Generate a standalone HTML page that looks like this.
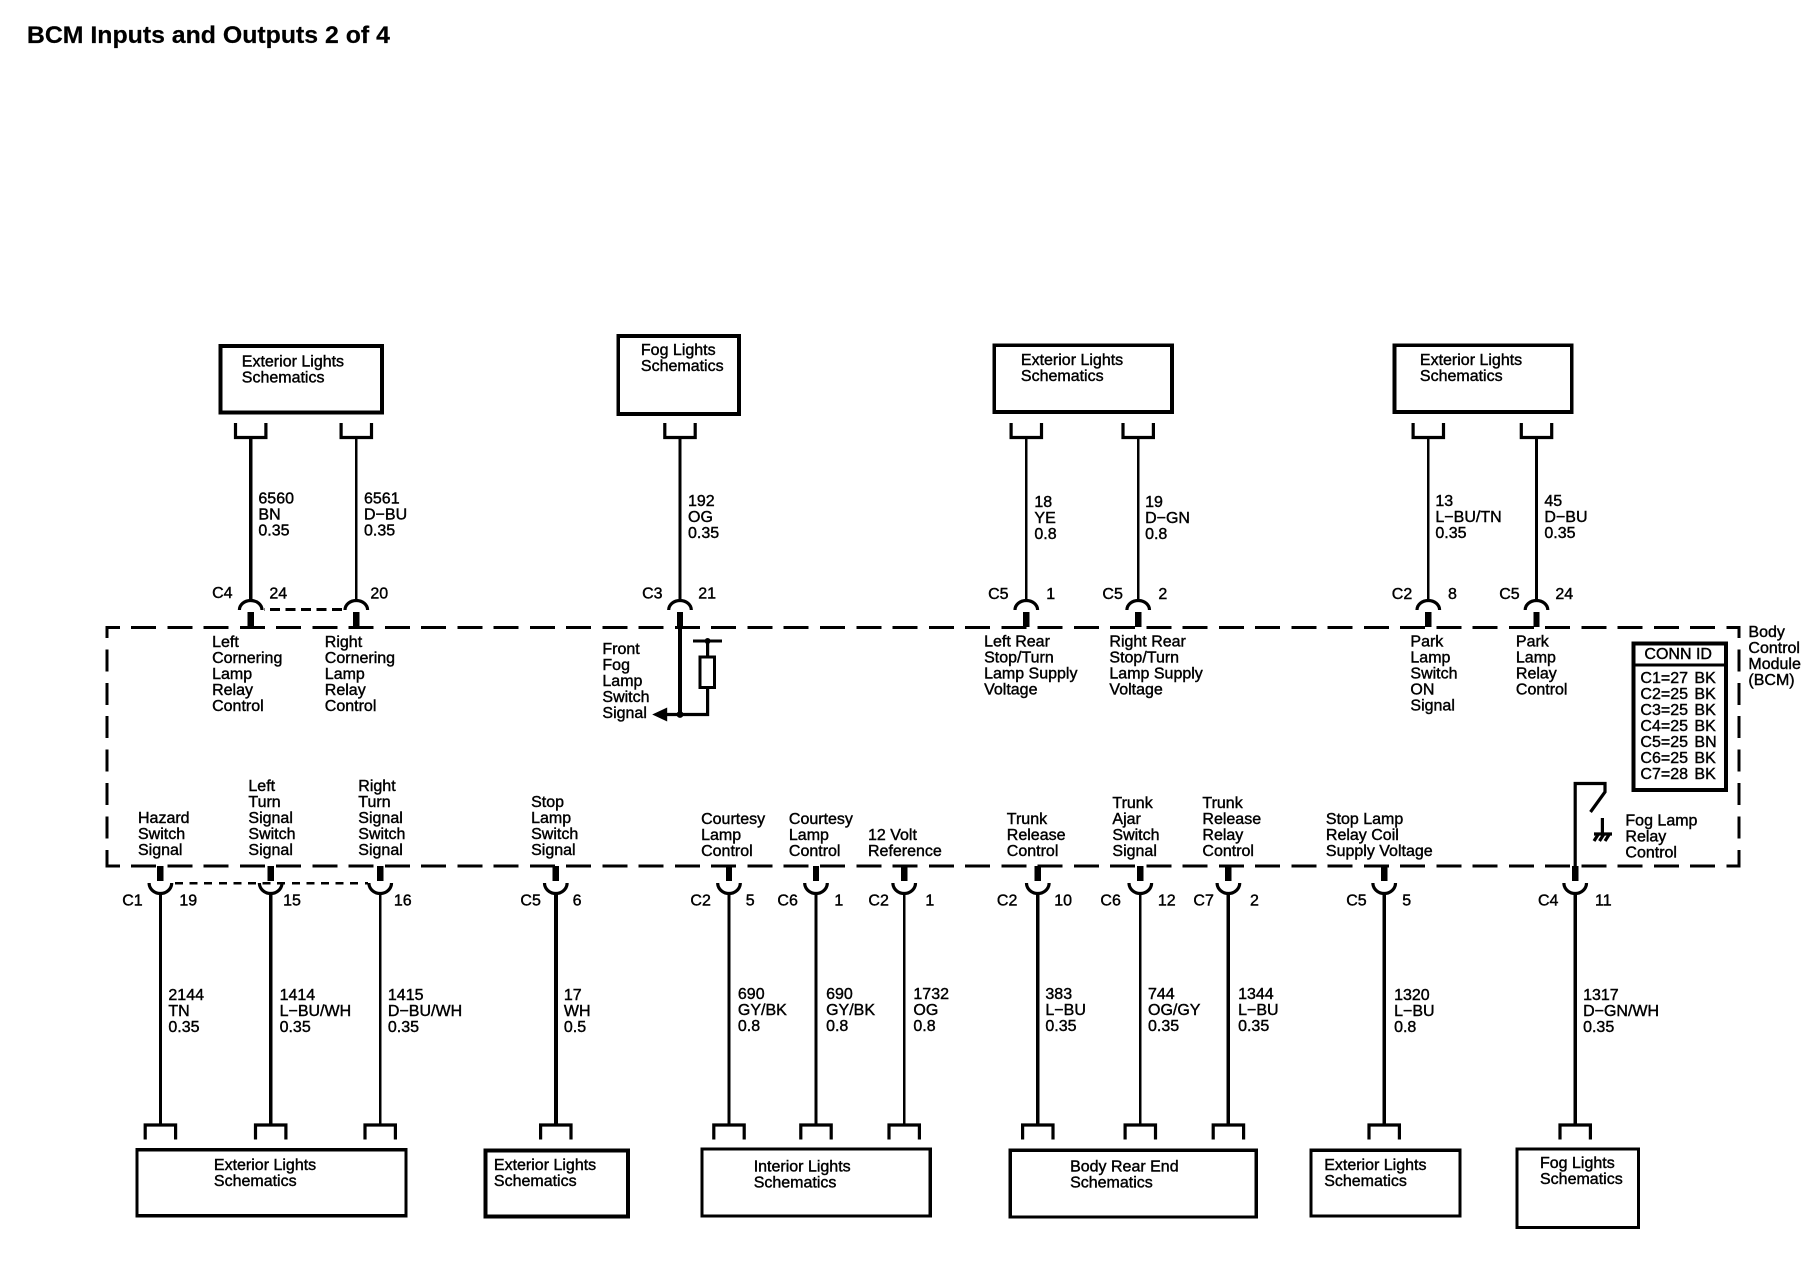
<!DOCTYPE html>
<html><head><meta charset="utf-8"><title>BCM Inputs and Outputs 2 of 4</title>
<style>
html,body{margin:0;padding:0;background:#fff;width:1812px;height:1264px;overflow:hidden}
svg{display:block}
text{font-family:"Liberation Sans",sans-serif;font-size:16px;fill:#000;stroke:#000;stroke-width:.42;transform:translate(-.6px,-.8px)}
.t{font-weight:bold;font-size:24px;stroke-width:.2}
.l{fill:none;stroke:#000;stroke-width:3.2}
.b{fill:none;stroke:#000;stroke-width:3.8}
line,rect{shape-rendering:crispEdges}
</style></head><body>
<svg xmlns="http://www.w3.org/2000/svg" width="1812" height="1264" viewBox="0 0 1812 1264">
<defs>
<g id="tc"><path class="l" d="M-15.2 423V437.5H15.2V423"/><path class="l" d="M-11.3 610A11.3 9.5 0 0 1 11.3 610"/><rect x="-3.2" y="612" width="6.4" height="15" fill="#000"/></g>
<g id="bc"><path class="l" d="M-15.2 1139.5V1125H15.2V1139.5"/><path class="l" d="M-11.3 883A11.3 10.5 0 0 0 11.3 883"/><rect x="-3.2" y="866" width="6.4" height="15" fill="#000"/></g>
</defs>
<text class="t" x="27.5" y="44" textLength="363" lengthAdjust="spacingAndGlyphs">BCM Inputs and Outputs 2 of 4</text>

<!-- module border -->
<line x1="106.8" y1="627.5" x2="1740" y2="627.5" stroke="#000" stroke-width="3.2" stroke-dasharray="25 11.26" stroke-dashoffset="12"/>
<line x1="106.8" y1="866" x2="1740" y2="866" stroke="#000" stroke-width="3.2" stroke-dasharray="25 11.26" stroke-dashoffset="12"/>
<line x1="106.8" y1="626" x2="106.8" y2="867.5" stroke="#000" stroke-width="3" stroke-dasharray="22 11.4" stroke-dashoffset="10"/>
<line x1="1739" y1="626" x2="1739" y2="867.5" stroke="#000" stroke-width="3" stroke-dasharray="22 11.4" stroke-dashoffset="10"/>

<!-- top boxes -->
<rect class="b" x="220.4" y="346" width="161.5" height="66.6"/>
<rect class="b" x="618.3" y="336" width="120.8" height="78"/>
<rect class="b" x="994.3" y="345.3" width="177.7" height="66.6"/>
<rect class="b" x="1394.5" y="345.3" width="177.3" height="66.6"/>

<!-- top wires -->
<use href="#tc" x="250.7"/><line x1="250.7" y1="437" x2="250.7" y2="602" stroke="#000" stroke-width="3.6"/>
<use href="#tc" x="356.3"/><line x1="356.3" y1="437" x2="356.3" y2="602" stroke="#000" stroke-width="2.8"/>
<use href="#tc" x="680"/><line x1="680" y1="437" x2="680" y2="602" stroke="#000" stroke-width="3"/>
<use href="#tc" x="1026.3"/><line x1="1026.3" y1="437" x2="1026.3" y2="602" stroke="#000" stroke-width="2.6"/>
<use href="#tc" x="1138.2"/><line x1="1138.2" y1="437" x2="1138.2" y2="602" stroke="#000" stroke-width="2.6"/>
<use href="#tc" x="1428.3"/><line x1="1428.3" y1="437" x2="1428.3" y2="602" stroke="#000" stroke-width="2.6"/>
<use href="#tc" x="1536.5"/><line x1="1536.5" y1="437" x2="1536.5" y2="602" stroke="#000" stroke-width="2.6"/>
<line x1="264" y1="609.5" x2="345" y2="609.5" stroke="#000" stroke-width="2.8" stroke-dasharray="10 5.5" stroke-dashoffset="-6"/>

<!-- fog switch internal -->
<line x1="680" y1="627" x2="680" y2="714.5" stroke="#000" stroke-width="3.6"/>
<circle cx="680" cy="714.5" r="3.4" fill="#000"/>
<path d="M652.2 714.5L667.2 707.5V721.5Z" fill="#000"/>
<path class="l" d="M667 714.5H707.6V641"/>
<line x1="693" y1="641" x2="721.8" y2="641" stroke="#000" stroke-width="2.6"/>
<circle cx="707.6" cy="641" r="3" fill="#000"/>
<rect x="700" y="657" width="14.5" height="30.5" fill="#fff" stroke="#000" stroke-width="3"/>

<!-- bottom wires -->
<use href="#bc" x="160.4"/><line x1="160.4" y1="893" x2="160.4" y2="1125" stroke="#000" stroke-width="2.8"/>
<use href="#bc" x="270.7"/><line x1="270.7" y1="893" x2="270.7" y2="1125" stroke="#000" stroke-width="3.5"/>
<use href="#bc" x="380.2"/><line x1="380.2" y1="893" x2="380.2" y2="1125" stroke="#000" stroke-width="2.6"/>
<use href="#bc" x="555.8"/><line x1="555.8" y1="893" x2="555.8" y2="1125" stroke="#000" stroke-width="4"/>
<use href="#bc" x="729"/><line x1="729" y1="893" x2="729" y2="1125" stroke="#000" stroke-width="3.2"/>
<use href="#bc" x="816"/><line x1="816" y1="893" x2="816" y2="1125" stroke="#000" stroke-width="2.6"/>
<use href="#bc" x="904.2"/><line x1="904.2" y1="893" x2="904.2" y2="1125" stroke="#000" stroke-width="2.6"/>
<use href="#bc" x="1037.8"/><line x1="1037.8" y1="893" x2="1037.8" y2="1125" stroke="#000" stroke-width="3.2"/>
<use href="#bc" x="1140.3"/><line x1="1140.3" y1="893" x2="1140.3" y2="1125" stroke="#000" stroke-width="2.6"/>
<use href="#bc" x="1228.4"/><line x1="1228.4" y1="893" x2="1228.4" y2="1125" stroke="#000" stroke-width="3.6"/>
<use href="#bc" x="1384.2"/><line x1="1384.2" y1="893" x2="1384.2" y2="1125" stroke="#000" stroke-width="3.4"/>
<use href="#bc" x="1575.2"/><line x1="1575.2" y1="893" x2="1575.2" y2="1125" stroke="#000" stroke-width="3.4"/>
<line x1="172" y1="883.3" x2="368" y2="883.3" stroke="#000" stroke-width="2.6" stroke-dasharray="8 6.6" stroke-dashoffset="-3"/>

<!-- relay -->
<path class="l" d="M1575.2 866V783.5H1605V792L1590.5 812"/>
<path class="l" d="M1602.4 818V834M1594 834H1612M1598.5 834L1594 841M1604 834L1599.5 841M1609.5 834L1605 841"/>

<!-- bottom boxes -->
<rect class="l" x="137" y="1149.8" width="269" height="66"/>
<rect class="b" x="485.5" y="1150.4" width="142.5" height="66.2"/>
<rect class="l" x="702" y="1149" width="228.2" height="67"/>
<rect class="l" x="1010.3" y="1150.3" width="246" height="66.7"/>
<rect class="l" x="1311" y="1150.2" width="149" height="65.7"/>
<rect class="l" x="1517" y="1149" width="121.5" height="78.5"/>

<!-- conn id -->
<rect x="1633.5" y="643.5" width="92.5" height="146.5" fill="none" stroke="#000" stroke-width="3.6"/>
<line x1="1632" y1="664.8" x2="1727" y2="664.8" stroke="#000" stroke-width="3"/>
<text x="1645" y="660">CONN ID</text>
<text x="1641" y="684">C1=27<tspan x="1695">BK</tspan></text>
<text x="1641" y="700">C2=25<tspan x="1695">BK</tspan></text>
<text x="1641" y="716">C3=25<tspan x="1695">BK</tspan></text>
<text x="1641" y="732">C4=25<tspan x="1695">BK</tspan></text>
<text x="1641" y="748">C5=25<tspan x="1695">BN</tspan></text>
<text x="1641" y="764">C6=25<tspan x="1695">BK</tspan></text>
<text x="1641" y="780">C7=28<tspan x="1695">BK</tspan></text>

<!-- box labels -->
<text x="242.4" y="367.3">Exterior Lights<tspan x="242.4" dy="16">Schematics</tspan></text>
<text x="641.5" y="356">Fog Lights<tspan x="641.5" dy="16">Schematics</tspan></text>
<text x="1021.5" y="366">Exterior Lights<tspan x="1021.5" dy="16">Schematics</tspan></text>
<text x="1420.5" y="366">Exterior Lights<tspan x="1420.5" dy="16">Schematics</tspan></text>
<text x="214.5" y="1171">Exterior Lights<tspan x="214.5" dy="16">Schematics</tspan></text>
<text x="494.5" y="1171">Exterior Lights<tspan x="494.5" dy="16">Schematics</tspan></text>
<text x="754.3" y="1172.3">Interior Lights<tspan x="754.3" dy="16">Schematics</tspan></text>
<text x="1070.7" y="1172.3">Body Rear End<tspan x="1070.7" dy="16">Schematics</tspan></text>
<text x="1324.8" y="1171">Exterior Lights<tspan x="1324.8" dy="16">Schematics</tspan></text>
<text x="1540.6" y="1169">Fog Lights<tspan x="1540.6" dy="16">Schematics</tspan></text>

<!-- top wire labels -->
<text x="259" y="504.5">6560<tspan x="259" dy="16">BN</tspan><tspan x="259" dy="16">0.35</tspan></text>
<text x="364.6" y="504.5">6561<tspan x="364.6" dy="16">D−BU</tspan><tspan x="364.6" dy="16">0.35</tspan></text>
<text x="688.6" y="506.7">192<tspan x="688.6" dy="16">OG</tspan><tspan x="688.6" dy="16">0.35</tspan></text>
<text x="1035" y="508">18<tspan x="1035" dy="16">YE</tspan><tspan x="1035" dy="16">0.8</tspan></text>
<text x="1145.7" y="508">19<tspan x="1145.7" dy="16">D−GN</tspan><tspan x="1145.7" dy="16">0.8</tspan></text>
<text x="1436" y="506.7">13<tspan x="1436" dy="16">L−BU/TN</tspan><tspan x="1436" dy="16">0.35</tspan></text>
<text x="1545" y="506.7">45<tspan x="1545" dy="16">D−BU</tspan><tspan x="1545" dy="16">0.35</tspan></text>

<!-- top connector labels -->
<text x="212.7" y="599">C4</text><text x="270" y="599.5">24</text><text x="371" y="599.5">20</text>
<text x="642.7" y="599.5">C3</text><text x="698.8" y="599.5">21</text>
<text x="988.7" y="600">C5</text><text x="1046.8" y="600">1</text>
<text x="1103" y="600">C5</text><text x="1159" y="600">2</text>
<text x="1392.4" y="600">C2</text><text x="1448.6" y="600">8</text>
<text x="1499.8" y="600">C5</text><text x="1556" y="600">24</text>

<!-- inside top labels -->
<text x="212.7" y="648">Left<tspan x="212.7" dy="16">Cornering</tspan><tspan x="212.7" dy="16">Lamp</tspan><tspan x="212.7" dy="16">Relay</tspan><tspan x="212.7" dy="16">Control</tspan></text>
<text x="325.4" y="648">Right<tspan x="325.4" dy="16">Cornering</tspan><tspan x="325.4" dy="16">Lamp</tspan><tspan x="325.4" dy="16">Relay</tspan><tspan x="325.4" dy="16">Control</tspan></text>
<text x="603" y="655">Front<tspan x="603" dy="16">Fog</tspan><tspan x="603" dy="16">Lamp</tspan><tspan x="603" dy="16">Switch</tspan><tspan x="603" dy="16">Signal</tspan></text>
<text x="984.7" y="647.5">Left Rear<tspan x="984.7" dy="16">Stop/Turn</tspan><tspan x="984.7" dy="16">Lamp Supply</tspan><tspan x="984.7" dy="16">Voltage</tspan></text>
<text x="1110" y="647.5">Right Rear<tspan x="1110" dy="16">Stop/Turn</tspan><tspan x="1110" dy="16">Lamp Supply</tspan><tspan x="1110" dy="16">Voltage</tspan></text>
<text x="1411" y="647.5">Park<tspan x="1411" dy="16">Lamp</tspan><tspan x="1411" dy="16">Switch</tspan><tspan x="1411" dy="16">ON</tspan><tspan x="1411" dy="16">Signal</tspan></text>
<text x="1516.5" y="647.5">Park<tspan x="1516.5" dy="16">Lamp</tspan><tspan x="1516.5" dy="16">Relay</tspan><tspan x="1516.5" dy="16">Control</tspan></text>
<text x="1749" y="638">Body<tspan x="1749" dy="16">Control</tspan><tspan x="1749" dy="16">Module</tspan><tspan x="1749" dy="16">(BCM)</tspan></text>

<!-- inside bottom labels -->
<text x="138.6" y="824">Hazard<tspan x="138.6" dy="16">Switch</tspan><tspan x="138.6" dy="16">Signal</tspan></text>
<text x="249" y="792">Left<tspan x="249" dy="16">Turn</tspan><tspan x="249" dy="16">Signal</tspan><tspan x="249" dy="16">Switch</tspan><tspan x="249" dy="16">Signal</tspan></text>
<text x="358.9" y="792">Right<tspan x="358.9" dy="16">Turn</tspan><tspan x="358.9" dy="16">Signal</tspan><tspan x="358.9" dy="16">Switch</tspan><tspan x="358.9" dy="16">Signal</tspan></text>
<text x="531.7" y="808">Stop<tspan x="531.7" dy="16">Lamp</tspan><tspan x="531.7" dy="16">Switch</tspan><tspan x="531.7" dy="16">Signal</tspan></text>
<text x="701.7" y="825">Courtesy<tspan x="701.7" dy="16">Lamp</tspan><tspan x="701.7" dy="16">Control</tspan></text>
<text x="789.5" y="825">Courtesy<tspan x="789.5" dy="16">Lamp</tspan><tspan x="789.5" dy="16">Control</tspan></text>
<text x="868.6" y="841">12 Volt<tspan x="868.6" dy="16">Reference</tspan></text>
<text x="1007.4" y="825">Trunk<tspan x="1007.4" dy="16">Release</tspan><tspan x="1007.4" dy="16">Control</tspan></text>
<text x="1113" y="809">Trunk<tspan x="1113" dy="16">Ajar</tspan><tspan x="1113" dy="16">Switch</tspan><tspan x="1113" dy="16">Signal</tspan></text>
<text x="1203" y="809">Trunk<tspan x="1203" dy="16">Release</tspan><tspan x="1203" dy="16">Relay</tspan><tspan x="1203" dy="16">Control</tspan></text>
<text x="1326.5" y="825">Stop Lamp<tspan x="1326.5" dy="16">Relay Coil</tspan><tspan x="1326.5" dy="16">Supply Voltage</tspan></text>
<text x="1626" y="826.5">Fog Lamp<tspan x="1626" dy="16">Relay</tspan><tspan x="1626" dy="16">Control</tspan></text>

<!-- bottom connector labels -->
<text x="122.8" y="906.5">C1</text><text x="180" y="906.5">19</text><text x="283.7" y="906.5">15</text><text x="394.5" y="906.5">16</text>
<text x="521" y="906.5">C5</text><text x="573.2" y="906.5">6</text>
<text x="691" y="906.5">C2</text><text x="746.4" y="906.5">5</text>
<text x="778" y="906.5">C6</text><text x="835" y="906.5">1</text>
<text x="869" y="906.5">C2</text><text x="926" y="906.5">1</text>
<text x="997.5" y="906.5">C2</text><text x="1054.8" y="906.5">10</text>
<text x="1101" y="906.5">C6</text><text x="1158.5" y="906.5">12</text>
<text x="1194" y="906.5">C7</text><text x="1250.6" y="906.5">2</text>
<text x="1346.8" y="906.5">C5</text><text x="1402.8" y="906.5">5</text>
<text x="1538.6" y="906.5">C4</text><text x="1595.6" y="906.5">11</text>

<!-- bottom wire labels -->
<text x="169" y="1001">2144<tspan x="169" dy="16">TN</tspan><tspan x="169" dy="16">0.35</tspan></text>
<text x="280.2" y="1001">1414<tspan x="280.2" dy="16">L−BU/WH</tspan><tspan x="280.2" dy="16">0.35</tspan></text>
<text x="388.5" y="1001">1415<tspan x="388.5" dy="16">D−BU/WH</tspan><tspan x="388.5" dy="16">0.35</tspan></text>
<text x="564.5" y="1001">17<tspan x="564.5" dy="16">WH</tspan><tspan x="564.5" dy="16">0.5</tspan></text>
<text x="738.5" y="1000">690<tspan x="738.5" dy="16">GY/BK</tspan><tspan x="738.5" dy="16">0.8</tspan></text>
<text x="826.7" y="1000">690<tspan x="826.7" dy="16">GY/BK</tspan><tspan x="826.7" dy="16">0.8</tspan></text>
<text x="914" y="1000">1732<tspan x="914" dy="16">OG</tspan><tspan x="914" dy="16">0.8</tspan></text>
<text x="1046" y="1000">383<tspan x="1046" dy="16">L−BU</tspan><tspan x="1046" dy="16">0.35</tspan></text>
<text x="1148.6" y="1000">744<tspan x="1148.6" dy="16">OG/GY</tspan><tspan x="1148.6" dy="16">0.35</tspan></text>
<text x="1238.7" y="1000">1344<tspan x="1238.7" dy="16">L−BU</tspan><tspan x="1238.7" dy="16">0.35</tspan></text>
<text x="1394.7" y="1000.7">1320<tspan x="1394.7" dy="16">L−BU</tspan><tspan x="1394.7" dy="16">0.8</tspan></text>
<text x="1583.7" y="1000.7">1317<tspan x="1583.7" dy="16">D−GN/WH</tspan><tspan x="1583.7" dy="16">0.35</tspan></text>
</svg>
</body></html>
